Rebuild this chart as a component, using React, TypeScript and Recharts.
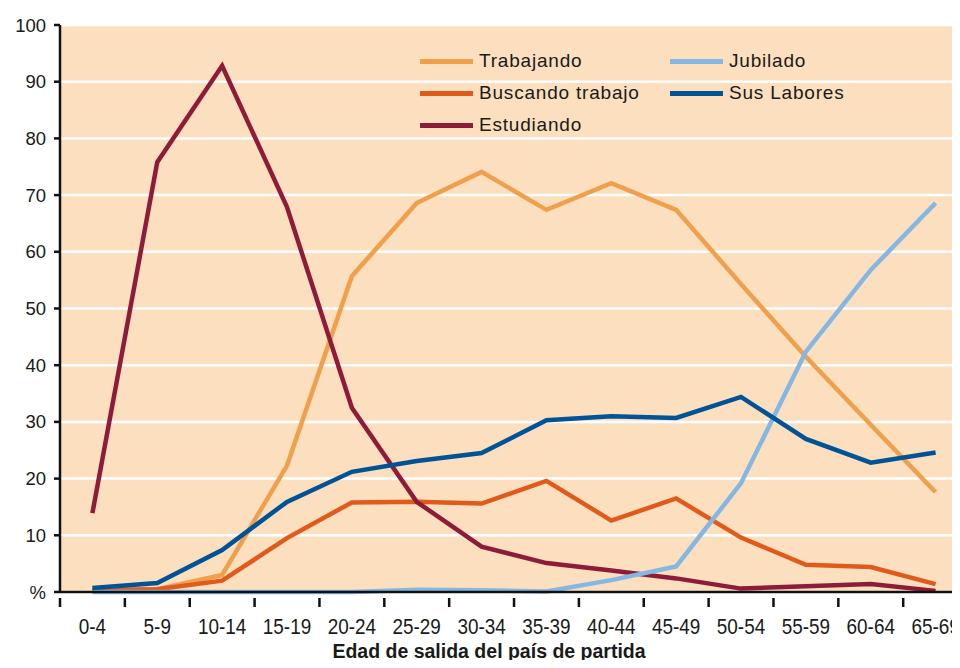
import { CartesianGrid, Label, Line, LineChart, XAxis, YAxis } from 'recharts';

const ageGroups = ['0-4', '5-9', '10-14', '15-19', '20-24', '25-29', '30-34', '35-39', '40-44', '45-49', '50-54', '55-59', '60-64', '65-69'];
const trabajando = [0.3, 0.5, 3.0, 22.3, 55.7, 68.6, 74.1, 67.4, 72.1, 67.4, 54.3, 41.5, 29.5, 17.6];
const buscando = [0.3, 0.5, 2.0, 9.5, 15.8, 15.9, 15.6, 19.6, 12.6, 16.5, 9.6, 4.8, 4.4, 1.4];
const estudiando = [13.9, 75.8, 92.8, 67.9, 32.5, 15.9, 8.0, 5.1, 3.8, 2.4, 0.6, 1.0, 1.4, 0.2];
const jubilado = [0, 0, 0, 0, 0, 0.4, 0.3, 0.1, 2.1, 4.5, 19.2, 42.4, 56.8, 68.6];
const susLabores = [0.7, 1.6, 7.4, 15.9, 21.2, 23.1, 24.5, 30.3, 31.0, 30.7, 34.4, 27.0, 22.8, 24.6];
const yTicks = [0, 10, 20, 30, 40, 50, 60, 70, 80, 90, 100];

const data = ageGroups.map((g, i) => ({
  g,
  trabajando: trabajando[i],
  buscando: buscando[i],
  estudiando: estudiando[i],
  jubilado: jubilado[i],
  susLabores: susLabores[i],
}));

const series = [
  { key: 'trabajando', name: 'Trabajando', color: '#F0A04B' },
  { key: 'buscando', name: 'Buscando trabajo', color: '#E05A1B' },
  { key: 'estudiando', name: 'Estudiando', color: '#8E1B38' },
  { key: 'jubilado', name: 'Jubilado', color: '#85B7E3' },
  { key: 'susLabores', name: 'Sus Labores', color: '#005396' },
];

const HALF_STEP = 32.4;
const FONT = "'Liberation Sans', Arial, sans-serif";

function AgeTick({ x, y, payload }: any) {
  return (
    <g>
      <line x1={x - HALF_STEP} x2={x - HALF_STEP} y1={y - 2} y2={y + 7} stroke="#111" strokeWidth={2.5} />
      <text
        transform={`translate(${x},${y + 34}) scale(0.86,1)`}
        textAnchor="middle"
        fill="#1a1a1a"
        fontSize={22}
        fontFamily={FONT}
      >
        {payload.value}
      </text>
    </g>
  );
}

function LegendBox() {
  const order = [0, 3, 1, 4, 2];
  return (
    <div style={{ position: 'absolute', top: 50, left: 420, display: 'grid', gridTemplateColumns: '250px 250px', rowGap: 10 }}>
      {order.map((i) => (
        <div key={series[i].key} style={{ display: 'flex', alignItems: 'center', height: 22 }}>
          <span style={{ display: 'inline-block', width: 53, height: 5, background: series[i].color, marginRight: 6 }} />
          <span style={{ fontSize: 19, letterSpacing: 0.8, color: '#1a1a1a', fontFamily: FONT }}>{series[i].name}</span>
        </div>
      ))}
    </div>
  );
}

export default function App() {
  return (
    <div style={{ position: 'relative', margin: -8, width: 960, height: 668, overflow: 'hidden', background: '#fff' }}>
      <LineChart width={968} height={668} data={data} margin={{ top: 25, right: 0, bottom: 0, left: 0 }}>
        <CartesianGrid vertical={false} stroke="#ffffff" strokeWidth={2.5} fill="#FCDFBF" fillOpacity={1} />
        <XAxis
          dataKey="g"
          height={76}
          padding={{ left: HALF_STEP, right: HALF_STEP }}
          interval={0}
          tickLine={false}
          tick={<AgeTick />}
          axisLine={{ stroke: '#111', strokeWidth: 2.5 }}
        >
          <Label
            value="Edad de salida del país de partida"
            position="insideBottom"
            offset={10}
            dx={-25}
            style={{ fontSize: 19.5, fontWeight: 700, fill: '#1a1a1a', fontFamily: FONT }}
          />
        </XAxis>
        <YAxis
          width={60}
          domain={[0, 100]}
          ticks={yTicks}
          interval={0}
          tickFormatter={(v: number) => (v === 0 ? '%' : String(v))}
          axisLine={{ stroke: '#111', strokeWidth: 2.5 }}
          tickLine={{ stroke: '#111', strokeWidth: 2.5 }}
          tickSize={6}
          tickMargin={8}
          tick={{ fontSize: 18.5, fill: '#1a1a1a', fontFamily: FONT }}
        />
        {series.map((s) => (
          <Line
            key={s.key}
            dataKey={s.key}
            name={s.name}
            stroke={s.color}
            strokeWidth={4.5}
            dot={false}
            type="linear"
            isAnimationActive={false}
          />
        ))}
      </LineChart>
      <LegendBox />
    </div>
  );
}
